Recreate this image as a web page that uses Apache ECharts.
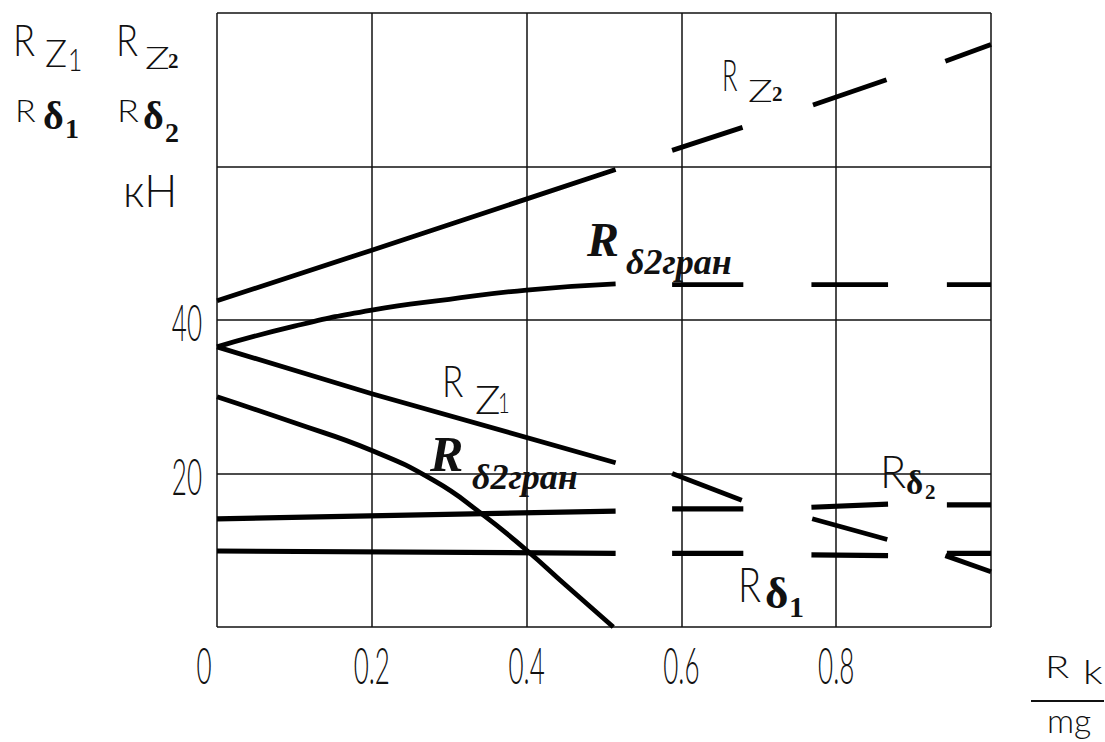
<!DOCTYPE html>
<html>
<head>
<meta charset="utf-8">
<script src="https://cdn.jsdelivr.net/npm/echarts@6/dist/echarts.min.js"></script>
<style>
  html, body { margin: 0; padding: 0; background: #fff; }
  #chart { width: 1105px; height: 742px; }
</style>
</head>
<body>
<div id="chart"></div>
<script>
// ---- tick labels ----
const xTicks = [0, 0.2, 0.4, 0.6, 0.8];
const xTickLabels = ['0', '0.2', '0.4', '0.6', '0.8'];
const yTicks = [20, 40];
const yTickLabels = ['20', '40'];

// ---- curves: [Rk/mg, kH] ----
// R_z2: solid run, then dashes
const rz2Solid = [[0, 42.5], [0.2, 49.1], [0.515, 59.6]];
const rz2Dashes = [
  [[0.588, 62.1], [0.679, 65.1]],
  [[0.770, 68.0], [0.865, 71.3]],
  [[0.941, 73.7], [1.0, 75.9]]
];
// R_δ2гран (upper branch)
const rd2UpperSolid = [[0, 36.5], [0.1, 39.2], [0.2, 41.3], [0.3, 42.7], [0.4, 43.9], [0.515, 44.7]];
const rd2UpperDashes = [
  [[0.588, 44.6], [0.680, 44.6]],
  [[0.768, 44.6], [0.867, 44.6]],
  [[0.943, 44.6], [1.0, 44.6]]
];
// R_z1
const rz1Solid = [[0, 36.5], [0.2, 30.4], [0.515, 21.4]];
const rz1Dashes = [
  [[0.588, 20.0], [0.678, 16.5]],
  [[0.769, 14.1], [0.866, 11.4]],
  [[0.941, 9.3], [1.0, 7.2]]
];
// R_δ2гран (lower branch)
const rd2Lower = [[0, 30.0], [0.1, 26.6], [0.2, 23.0], [0.28, 19.1], [0.34, 14.9], [0.4, 10.0], [0.45, 5.5], [0.512, 0]];
// R_δ2
const rd2Solid = [[0, 14.1], [0.515, 15.1]];
const rd2Dashes = [
  [[0.588, 15.4], [0.680, 15.4]],
  [[0.768, 15.6], [0.867, 16.0]],
  [[0.943, 15.9], [1.0, 15.9]]
];
// R_δ1
const rd1Solid = [[0, 9.9], [0.515, 9.6]];
const rd1Dashes = [
  [[0.588, 9.6], [0.680, 9.6]],
  [[0.768, 9.4], [0.867, 9.3]],
  [[0.943, 9.6], [1.0, 9.6]]
];

// ---- styling ----
const INK = '#000';
const TEXT_INK = '#111';
const FONT_THIN = "Lato, 'Liberation Sans', 'DejaVu Sans', sans-serif";
const FONT_SERIF = "'Liberation Serif', 'DejaVu Serif', serif";

function lineSeries(name, data, smooth, width) {
  return {
    type: 'line', name: name, data: data,
    showSymbol: false, symbol: 'none', silent: true,
    smooth: smooth ? 0.5 : false,
    lineStyle: { color: INK, width: width || 5, cap: 'butt', join: 'round' },
    z: 3
  };
}

const series = [];
function addCurve(name, solid, dashes, smooth, width) {
  series.push(lineSeries(name, solid, smooth, width));
  (dashes || []).forEach((seg, i) => series.push(lineSeries(name + ' ' + (i + 1), seg, false, width)));
}
addCurve('Rz2', rz2Solid, rz2Dashes, false, 4.8);
addCurve('Rδ2гран верх', rd2UpperSolid, rd2UpperDashes, true, 4.8);
addCurve('Rz1', rz1Solid, rz1Dashes, false, 4.8);
addCurve('Rδ2гран низ', rd2Lower, null, true, 4.8);
addCurve('Rδ2', rd2Solid, rd2Dashes, false, 5.2);
addCurve('Rδ1', rd1Solid, rd1Dashes, false, 5.2);

const gridLine = { show: true, lineStyle: { color: '#111', width: 1.5, type: 'solid' } };

const chart = echarts.init(document.getElementById('chart'), null, { renderer: 'svg' });
chart.setOption({
  animation: false,
  backgroundColor: '#fff',
  grid: { left: 217, top: 13, right: 114, bottom: 115, containLabel: false },
  xAxis: {
    type: 'value', min: 0, max: 1, interval: 0.2,
    axisLine: { show: false }, axisTick: { show: false }, axisLabel: { show: false },
    splitLine: gridLine
  },
  yAxis: {
    type: 'value', min: 0, max: 80, interval: 20,
    axisLine: { show: false }, axisTick: { show: false }, axisLabel: { show: false },
    splitLine: gridLine
  },
  series: series
});

// ---- text layer ----
const ctx = document.createElement('canvas').getContext('2d');
function inkWidth(text, font) {
  ctx.font = font;
  const m = ctx.measureText(text);
  const w = (m.actualBoundingBoxRight || 0) + (m.actualBoundingBoxLeft || 0);
  return w > 0 ? w : m.width;
}
function textEl(text, x, y, font, align, scaleX) {
  return {
    type: 'text', x: x, y: y, scaleX: scaleX || 1, silent: true, z: 10,
    style: {
      text: text, x: 0, y: 0, font: font, fill: TEXT_INK,
      textAlign: align || 'left', textVerticalAlign: 'middle',
      align: align || 'left', verticalAlign: 'middle'
    }
  };
}
// thin upright lettering, squeezed to a given ink width
function thin(text, left, cy, size, width, align) {
  const font = '300 ' + size + 'px ' + FONT_THIN;
  const s = width ? width / inkWidth(text, font) : 1;
  return textEl(text, left, cy, font, align, s);
}
function serif(text, left, cy, size, weight, style) {
  const font = (style || 'normal') + ' ' + (weight || 'bold') + ' ' + size + 'px ' + FONT_SERIF;
  return textEl(text, left, cy, font, 'left', 1);
}

const graphics = [];

// axis tick labels positioned through the chart's own scales
const DIGIT_FONT = '300 52px ' + FONT_THIN;
const DIGIT_SCALE = 14 / inkWidth('0', DIGIT_FONT);
xTicks.forEach((v, i) => {
  const p = chart.convertToPixel({ gridIndex: 0 }, [v, 0]);
  const shift = v === 0 ? -13 : 0;
  graphics.push(textEl(xTickLabels[i], p[0] + shift, 664, DIGIT_FONT, 'center', DIGIT_SCALE));
});
yTicks.forEach((v, i) => {
  const p = chart.convertToPixel({ gridIndex: 0 }, [0, v]);
  graphics.push(textEl(yTickLabels[i], 202, p[1] + 1, DIGIT_FONT, 'right', DIGIT_SCALE));
});

// axis caption block, top-left
graphics.push(
  thin('R', 13, 39.5, 44, 19),
  thin('Z', 45, 52.5, 37, 20),
  thin('1', 68, 59, 32, 10),
  thin('R', 116, 39.5, 44, 19),
  thin('Z', 145, 56, 32, 22),
  serif('2', 168, 61, 21),
  thin('R', 15, 109, 32, 17),
  serif('δ', 43, 115, 40),
  serif('1', 65, 128, 28),
  thin('R', 117, 109, 32, 18),
  serif('δ', 143, 115, 40),
  serif('2', 165, 132, 28),
  thin('кН', 123, 190, 46, 47)
);

// curve labels
graphics.push(
  thin('R', 722, 75, 43, 13),
  thin('Z', 748, 89, 32, 22),
  serif('2', 772, 93.5, 21),

  serif('R', 587, 239, 48, 'bold', 'italic'),
  serif('δ2гран', 626, 262, 36, 'bold', 'italic'),

  thin('R', 442, 380, 43, 18),
  thin('Z', 475, 399, 39, 23),
  thin('1', 498, 402.5, 27, 9),

  serif('R', 430, 453.5, 50, 'bold', 'italic'),
  serif('δ2гран', 472, 477, 36, 'bold', 'italic'),

  thin('R', 880, 470.5, 45, 22),
  serif('δ', 906, 482.5, 33),
  serif('2', 925, 492, 21),

  thin('R', 738, 583.5, 48, 19),
  serif('δ', 765, 592.5, 45),
  serif('1', 789, 606, 30)
);

// x-axis caption: Rk / mg
graphics.push(
  thin('R', 1045, 666, 32, 20),
  thin('k', 1083, 671, 34, 17),
  {
    type: 'line', silent: true, z: 10,
    shape: { x1: 1031, y1: 701, x2: 1104, y2: 701 },
    style: { stroke: TEXT_INK, lineWidth: 2 }
  },
  thin('mg', 1047, 720, 34, 42)
);

chart.setOption({ graphic: { elements: graphics } });
</script>
</body>
</html>
